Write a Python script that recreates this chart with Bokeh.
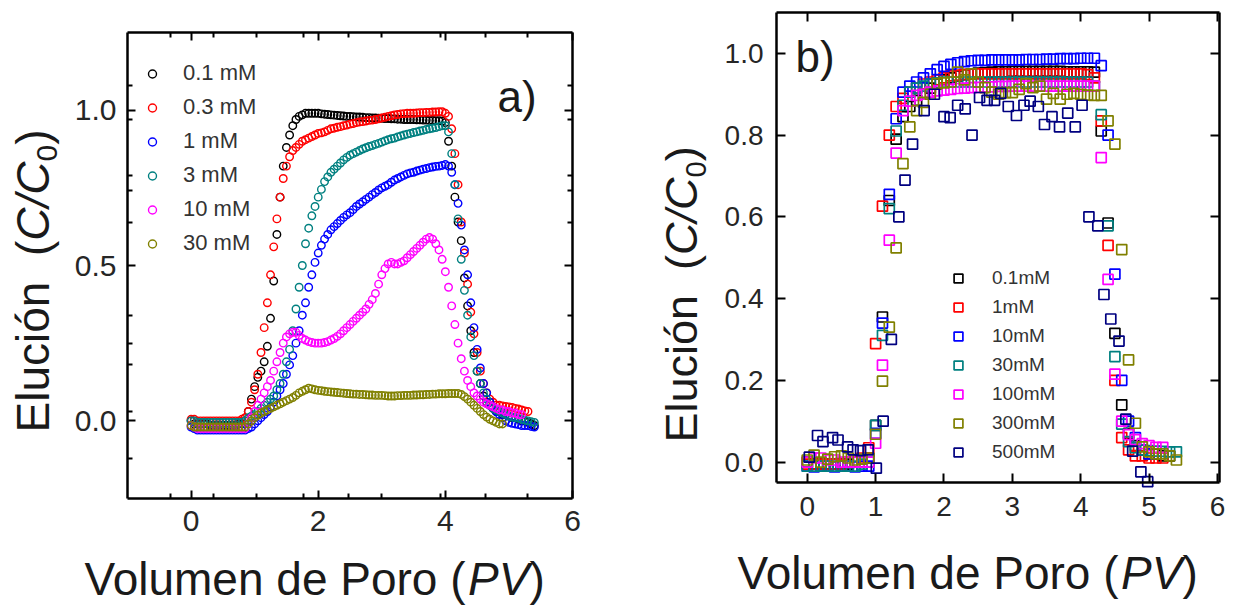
import math
from bokeh.plotting import figure
from bokeh.models import (Range1d, FixedTicker, LinearAxis, Legend, LegendItem, Label,
                          PrintfTickFormatter, CustomJSTickFormatter)
from bokeh.layouts import row
from bokeh.embed import file_html
from bokeh.resources import INLINE

FONT = "Liberation Sans"

# ---------------- Panel a data (pore volume grid and C/C0 per concentration) -------------
PV_A = [0.00, 0.05, 0.10, 0.15, 0.20, 0.25, 0.30, 0.35, 0.40, 0.45,
        0.50, 0.55, 0.60, 0.65, 0.70, 0.75, 0.80, 0.85, 0.90, 0.95,
        1.00, 1.05, 1.10, 1.15, 1.20, 1.25, 1.30, 1.35, 1.40, 1.45,
        1.50, 1.55, 1.60, 1.65, 1.70, 1.75, 1.80, 1.85, 1.90, 1.95,
        2.00, 2.05, 2.10, 2.15, 2.20, 2.25, 2.30, 2.35, 2.40, 2.45,
        2.50, 2.55, 2.60, 2.65, 2.70, 2.75, 2.80, 2.85, 2.90, 2.95,
        3.00, 3.05, 3.10, 3.15, 3.20, 3.25, 3.30, 3.35, 3.40, 3.45,
        3.50, 3.55, 3.60, 3.65, 3.70, 3.75, 3.80, 3.85, 3.90, 3.95,
        4.00, 4.05, 4.10, 4.15, 4.20, 4.25, 4.30, 4.35, 4.40, 4.45,
        4.50, 4.55, 4.60, 4.65, 4.70, 4.75, 4.80, 4.85, 4.90, 4.95,
        5.00, 5.05, 5.10, 5.15, 5.20, 5.25, 5.30, 5.35, 5.40]

A_01 = [0.00, -0.01, -0.01, -0.01, -0.01, -0.01, -0.015, -0.015, -0.015, -0.015,
        -0.015, -0.015, -0.015, -0.015, -0.015, -0.01, -0.01,
        0.00, 0.03, 0.07, 0.11, 0.14, 0.16, 0.19, 0.24, 0.33, 0.45, 0.60, 0.72, 0.82,
        0.88, 0.92, 0.95, 0.97, 0.98, 0.985, 0.99, 0.99, 0.99, 0.99,
        0.99, 0.988, 0.987, 0.986, 0.985, 0.984, 0.983, 0.982, 0.981, 0.98,
        0.98, 0.979, 0.978, 0.978, 0.977, 0.976, 0.976, 0.975, 0.975, 0.974,
        0.974, 0.973, 0.973, 0.972, 0.972, 0.971, 0.971, 0.97, 0.97, 0.97,
        0.97, 0.969, 0.969, 0.968, 0.968, 0.967, 0.967, 0.966, 0.966, 0.965,
        0.96, 0.90, 0.82, 0.72, 0.64, 0.58, 0.46, 0.37, 0.29, 0.22,
        0.16, 0.12, 0.08, 0.06, 0.05, 0.04, 0.03, 0.03, 0.02, 0.02,
        0.015, 0.01, 0.01, 0.005, 0.0, 0.0, -0.005, -0.01, -0.015]
A_03 = [0.005, 0.005, 0.0, 0.0, 0.0, 0.0, 0.0, 0.0, 0.0, 0.0,
        0.0, 0.0, 0.0, 0.0, 0.0, 0.0, 0.005,
        0.01, 0.03, 0.06, 0.10, 0.15, 0.22, 0.30, 0.38, 0.47, 0.56, 0.65, 0.72, 0.78,
        0.82, 0.85, 0.87, 0.88, 0.89, 0.90, 0.905, 0.91, 0.915, 0.92,
        0.925, 0.927, 0.93, 0.935, 0.94, 0.942, 0.945, 0.947, 0.95, 0.952,
        0.955, 0.957, 0.96, 0.962, 0.963, 0.965, 0.967, 0.968, 0.97, 0.972,
        0.975, 0.977, 0.98, 0.982, 0.985, 0.986, 0.988, 0.989, 0.99, 0.99,
        0.99, 0.991, 0.992, 0.992, 0.993, 0.993, 0.994, 0.994, 0.995, 0.995,
        0.99, 0.98, 0.94, 0.86, 0.76, 0.64, 0.54, 0.44, 0.35, 0.28,
        0.22, 0.16, 0.12, 0.09, 0.07, 0.06, 0.05, 0.05, 0.048, 0.046,
        0.045, 0.043, 0.04, 0.038, 0.035, 0.032, 0.03]
A_1 = [-0.02, -0.025, -0.03, -0.03, -0.03, -0.03, -0.03, -0.03, -0.03, -0.03,
       -0.03, -0.03, -0.03, -0.03, -0.03, -0.03, -0.03, -0.03,
       -0.025, -0.02, -0.01, 0.0, 0.01, 0.02, 0.03, 0.045, 0.06, 0.08, 0.10,
       0.12, 0.15, 0.18, 0.21, 0.25, 0.29, 0.34, 0.38, 0.43, 0.47, 0.51,
       0.54, 0.565, 0.585, 0.60, 0.615, 0.625, 0.635, 0.645, 0.655, 0.663,
       0.67, 0.68, 0.69, 0.698, 0.705, 0.713, 0.72, 0.728, 0.735, 0.743,
       0.75, 0.755, 0.76, 0.768, 0.775, 0.78, 0.785, 0.79, 0.795, 0.798,
       0.80, 0.804, 0.807, 0.81, 0.812, 0.815, 0.817, 0.819, 0.82, 0.822,
       0.825, 0.82, 0.80, 0.76, 0.70, 0.63, 0.55, 0.47, 0.38, 0.30,
       0.23, 0.17, 0.12, 0.09, 0.06, 0.045, 0.03, 0.02, 0.01, 0.0,
       -0.005, -0.008, -0.01, -0.012, -0.015, -0.015, -0.015, -0.018, -0.02]
A_3 = [0.0, 0.0, -0.005, -0.005, -0.005, -0.005, -0.005, -0.005, -0.005, -0.005,
       -0.005, -0.005, -0.005, -0.005, -0.005, -0.005, -0.005,
       0.0, 0.01, 0.015, 0.02, 0.03, 0.04, 0.05, 0.06, 0.07, 0.08, 0.10, 0.12, 0.15,
       0.19, 0.23, 0.29, 0.36, 0.43, 0.50, 0.57, 0.62, 0.66, 0.69,
       0.72, 0.745, 0.77, 0.785, 0.80, 0.81, 0.82, 0.83, 0.84, 0.848,
       0.855, 0.86, 0.865, 0.87, 0.875, 0.879, 0.883, 0.886, 0.89, 0.893,
       0.897, 0.901, 0.905, 0.908, 0.91, 0.914, 0.917, 0.92, 0.923, 0.925,
       0.928, 0.93, 0.933, 0.935, 0.938, 0.94, 0.942, 0.944, 0.947, 0.95,
       0.95, 0.93, 0.86, 0.76, 0.65, 0.52, 0.42, 0.34, 0.27, 0.21,
       0.16, 0.12, 0.09, 0.07, 0.05, 0.04, 0.035, 0.03, 0.025, 0.02,
       0.015, 0.012, 0.01, 0.008, 0.005, 0.002, 0.0, -0.003, -0.005]
A_10 = [-0.015, -0.02, -0.025, -0.025, -0.025, -0.025, -0.025, -0.025, -0.025, -0.025,
        -0.025, -0.025, -0.025, -0.025, -0.025, -0.025, -0.025, -0.025,
        -0.01, 0.01, 0.03, 0.05, 0.07, 0.09, 0.11, 0.13, 0.16, 0.19, 0.22,
        0.25, 0.27, 0.28, 0.285, 0.285, 0.275, 0.265, 0.26, 0.255, 0.252, 0.25,
        0.25, 0.25, 0.252, 0.255, 0.26, 0.265, 0.272, 0.28, 0.29, 0.30,
        0.31, 0.32, 0.33, 0.34, 0.35, 0.36, 0.375, 0.39, 0.41, 0.44,
        0.47, 0.49, 0.505, 0.51, 0.505, 0.505, 0.51, 0.515, 0.525, 0.535,
        0.545, 0.555, 0.565, 0.575, 0.585, 0.59, 0.585, 0.57, 0.55, 0.52,
        0.48, 0.43, 0.37, 0.31, 0.25, 0.20, 0.16, 0.13, 0.11, 0.09,
        0.08, 0.07, 0.06, 0.055, 0.05, 0.045, 0.04, 0.035, 0.035, 0.03,
        0.03, 0.025, 0.025, 0.02, 0.02]
A_30 = [-0.015, -0.02, -0.02, -0.02, -0.02, -0.02, -0.02, -0.02, -0.02, -0.02,
        -0.02, -0.02, -0.02, -0.02, -0.02, -0.02, -0.02, -0.02,
        -0.01, 0.0, 0.01, 0.018, 0.025, 0.03, 0.035, 0.04, 0.045, 0.05, 0.055,
        0.06, 0.065, 0.07, 0.075, 0.082, 0.09, 0.095, 0.10, 0.105, 0.103, 0.10,
        0.098, 0.097, 0.095, 0.094, 0.093, 0.092, 0.091, 0.09, 0.089, 0.088,
        0.087, 0.086, 0.086, 0.085, 0.085, 0.084, 0.083, 0.083, 0.082, 0.082,
        0.082, 0.081, 0.08, 0.08, 0.08, 0.081, 0.081, 0.082, 0.082, 0.082,
        0.083, 0.083, 0.084, 0.084, 0.085, 0.085, 0.086, 0.086, 0.087, 0.087,
        0.087, 0.088, 0.088, 0.088, 0.088, 0.085, 0.078, 0.07, 0.06, 0.05,
        0.04, 0.03, 0.02, 0.012, 0.005, 0.0, -0.005, -0.01, -0.01]

LABELS_A = ["0.1 mM", "0.3 mM", "1 mM", "3 mM", "10 mM", "30 mM"]
COLORS_A = ["#000000", "#ff0000", "#0000ff", "#008080", "#ff00ff", "#808000"]

# ---------------- Panel b data ----------------
PV_B = [0.0, 0.1, 0.2, 0.3, 0.4, 0.5, 0.6, 0.7, 0.8, 0.9,
        1.0, 1.1, 1.2, 1.3, 1.4, 1.5, 1.6, 1.7, 1.8, 1.9,
        2.0, 2.1, 2.2, 2.3, 2.4, 2.5, 2.6, 2.7, 2.8, 2.9,
        3.0, 3.1, 3.2, 3.3, 3.4, 3.5, 3.6, 3.7, 3.8, 3.9,
        4.0, 4.1, 4.2, 4.3, 4.4, 4.5, 4.6, 4.7, 4.8, 4.9,
        5.0, 5.1, 5.2, 5.3, 5.4]

B_01 = [0.0, -0.005, -0.005, -0.005, -0.005, -0.005, -0.005, 0.0, 0.0, 0.01,
        0.09, 0.355, 0.64, 0.79, 0.845, 0.87, 0.885, 0.90, 0.915, 0.925,
        0.935, 0.94, 0.945, 0.948, 0.95, 0.952, 0.953, 0.954, 0.955, 0.955,
        0.956, 0.956, 0.956, 0.956, 0.956, 0.956, 0.956, 0.956, 0.955, 0.955,
        0.955, 0.955, 0.954,
        0.81, 0.585, 0.315, 0.14, 0.07, 0.04, 0.03, 0.02, 0.02, 0.015, 0.015]
B_1 = [-0.005, -0.005, -0.005, -0.005, -0.005, -0.005, 0.0, 0.0, 0.01, 0.035,
       0.29, 0.626, 0.80, 0.87, 0.89, 0.905, 0.915, 0.925, 0.93, 0.935,
       0.94, 0.945, 0.947, 0.948, 0.949, 0.95, 0.95, 0.95, 0.95, 0.95,
       0.95, 0.95, 0.95, 0.95, 0.95, 0.95, 0.95, 0.95, 0.95, 0.95,
       0.95, 0.948, 0.94,
       0.835, 0.53, 0.20, 0.06, 0.03, 0.015, 0.015, 0.01, 0.01, 0.01]
B_10 = [-0.01, -0.012, -0.01, -0.01, -0.012, -0.01, -0.01, -0.012, -0.01, -0.01,
        0.07, 0.34, 0.655, 0.84, 0.905, 0.92, 0.93, 0.94, 0.95, 0.96,
        0.968, 0.973, 0.977, 0.98, 0.982, 0.983, 0.983, 0.984, 0.984, 0.984,
        0.984, 0.984, 0.985, 0.985, 0.985, 0.986, 0.986, 0.987, 0.987, 0.987,
        0.988, 0.988, 0.988, 0.97,
        0.80, 0.46, 0.20, 0.10, 0.06, 0.03, 0.02]
B_30 = [-0.01, -0.01, -0.01, -0.01, -0.01, -0.01, -0.01, -0.01, -0.005, 0.0,
        0.09, 0.31, 0.62, 0.81, 0.873, 0.905, 0.915, 0.92, 0.925, 0.928,
        0.93, 0.93, 0.93, 0.93, 0.93, 0.93, 0.93, 0.93, 0.93, 0.93,
        0.93, 0.93, 0.93, 0.93, 0.93, 0.93, 0.93, 0.93, 0.93, 0.93,
        0.93, 0.93, 0.92,
        0.85, 0.578, 0.258, 0.093, 0.05, 0.035, 0.03, 0.028, 0.027, 0.026, 0.025, 0.025]
B_100 = [0.0, 0.01, 0.01, 0.005, 0.005, 0.0, 0.0, 0.0, 0.0, 0.0,
         0.046, 0.237, 0.543, 0.756, 0.86, 0.883, 0.897, 0.90, 0.905, 0.908,
         0.91, 0.912, 0.914, 0.915, 0.916, 0.917, 0.918, 0.918, 0.919, 0.919,
         0.92, 0.92, 0.92, 0.92, 0.92, 0.92, 0.92, 0.92, 0.92, 0.92,
         0.92, 0.92, 0.92,
         0.745, 0.447, 0.215, 0.10, 0.067, 0.055, 0.045, 0.04, 0.036, 0.036]
B_300 = [0.005, 0.017, 0.0, 0.007, 0.013, 0.015, 0.01, 0.005, 0.007, 0.01,
         0.068, 0.198, 0.33, 0.524, 0.73, 0.82, 0.86, 0.88, 0.90, 0.926,
         0.928, 0.93, 0.954, 0.935, 0.95, 0.93, 0.916, 0.905, 0.90, 0.904,
         0.904, 0.912, 0.926, 0.916, 0.92, 0.888, 0.902, 0.888, 0.90, 0.902,
         0.90, 0.898, 0.897, 0.897,
         0.835, 0.778, 0.52, 0.25, 0.095, 0.037, 0.025, 0.02, 0.02, 0.015, 0.005]
PV_B500 = [0.03, 0.15, 0.23, 0.37, 0.45, 0.59, 0.67, 0.78, 0.89,
           1.01, 1.11, 1.23, 1.34, 1.43, 1.54, 1.71, 1.86, 2.0,
           2.09, 2.2, 2.31, 2.41, 2.52, 2.63, 2.74, 2.83, 2.94,
           3.06, 3.17, 3.26, 3.38, 3.47, 3.58, 3.69, 3.81, 3.92, 4.02,
           4.12, 4.25, 4.34, 4.44, 4.56, 4.66, 4.76, 4.88, 4.98]
B_500 = [0.012, 0.065, 0.05, 0.06, 0.054, 0.037, 0.03, 0.028, 0.03,
         -0.015, 0.10, 0.30, 0.60, 0.69, 0.778, 0.86, 0.90, 0.845,
         0.843, 0.873, 0.864, 0.80, 0.892, 0.885, 0.885, 0.902, 0.87,
         0.848, 0.873, 0.883, 0.87, 0.826, 0.845, 0.82, 0.854, 0.82, 0.873,
         0.60, 0.578, 0.41, 0.35, 0.296, 0.105, 0.027, -0.024, -0.048]

LABELS_B = ["0.1mM", "1mM", "10mM", "30mM", "100mM", "300mM", "500mM"]
COLORS_B = ["#000000", "#ff0000", "#0000ff", "#008080", "#ff00ff", "#808000", "#000080"]

# tick positions
A_XMAJ = [0, 2, 4, 6]
A_XMIN = [-0.32, 0.36, 1.03, 1.77, 2.48, 3.0, 3.92, 4.63, 5.29]
A_YMAJ = [0.0, 0.5, 1.0]
A_YMIN = [-0.12, 0.03, 0.18, 0.25, 0.34, 0.64, 0.74, 0.79, 0.97, 1.08]
B_XMAJ = [0, 1, 2, 3, 4, 5, 6]
B_YMAJ = [0.0, 0.2, 0.4, 0.6, 0.8, 1.0]

H = 608   # canvas height of each panel (page has no margin)
BASE = 0.37  # empirical offset (in em) of the alphabetic baseline of a Label


def style_axis(ax, tick_in, minor_in, lw, label_size=None, standoff=0):
    ax.axis_line_width = lw
    ax.axis_line_color = "black"
    ax.major_tick_in = tick_in
    ax.major_tick_out = 0
    ax.minor_tick_in = minor_in
    ax.minor_tick_out = 0
    ax.major_tick_line_width = 2
    ax.minor_tick_line_width = 2
    ax.major_tick_line_color = "black"
    ax.minor_tick_line_color = "black" if minor_in > 0 else None
    ax.axis_label = None
    if label_size:
        ax.major_label_text_font = FONT
        ax.major_label_text_font_size = f"{label_size}px"
        ax.major_label_text_color = "#262626"
        ax.major_label_standoff = standoff
    else:
        ax.formatter = CustomJSTickFormatter(code="return ''")
        ax.major_label_text_font_size = "1px"
        ax.major_label_standoff = 0


def htext(p, left, px, baseline_py, text, size, style="normal"):
    """horizontal text; px, baseline_py in page pixels, left = canvas left on page"""
    p.add_layout(Label(x=px - left, y=H - baseline_py + BASE * size,
                       x_units="screen", y_units="screen", text=text,
                       text_font=FONT, text_font_size=f"{size}px", text_font_style=style,
                       text_color="#1a1a1a", text_align="left", text_baseline="alphabetic"))


def vtext(p, left, baseline_px, start_py, text, size, style="normal"):
    """text rotated 90 deg (reading upwards); baseline at page x, starting at page y"""
    p.add_layout(Label(x=baseline_px - left - BASE * size, y=H - start_py,
                       x_units="screen", y_units="screen", text=text, angle=math.pi / 2,
                       text_font=FONT, text_font_size=f"{size}px", text_font_style=style,
                       text_color="#1a1a1a", text_align="left", text_baseline="alphabetic"))


def panel(width, xlim, ylim, box):
    """box = (left, right, top, bottom) of the axes box in canvas pixels.
    The whole canvas is the plotting frame; the axes are pinned at the box edges."""
    left, right, top, bottom = box
    kx = (xlim[1] - xlim[0]) / (right - left)
    ky = (ylim[1] - ylim[0]) / (bottom - top)
    xr = Range1d(xlim[0] - left * kx, xlim[1] + (width - right) * kx)
    yr = Range1d(ylim[0] - (H - bottom) * ky, ylim[1] + top * ky)
    p = figure(width=width, height=H, x_range=xr, y_range=yr,
               output_backend="svg", toolbar_location=None,
               x_axis_location=None, y_axis_location=None,
               min_border_left=0, min_border_right=0, min_border_top=0, min_border_bottom=0)
    p.xgrid.visible = False
    p.ygrid.visible = False
    p.outline_line_color = None
    p.background_fill_color = "white"
    p.border_fill_color = "white"
    return p


def add_axes(p, xlim, ylim, xt, yt, tick_in, minor_in, xsize, ysize, xstand, ystand, xfmt, yfmt):
    b = LinearAxis(ticker=xt, formatter=PrintfTickFormatter(format=xfmt),
                   fixed_location=ylim[0], bounds=xlim)
    t = LinearAxis(ticker=xt, fixed_location=ylim[1], bounds=xlim)
    l = LinearAxis(ticker=yt, formatter=PrintfTickFormatter(format=yfmt),
                   fixed_location=xlim[0], bounds=ylim)
    r = LinearAxis(ticker=yt, fixed_location=xlim[1], bounds=ylim)
    style_axis(b, tick_in, minor_in, 2.5, xsize, xstand)
    style_axis(t, tick_in, minor_in, 2.5)
    style_axis(l, tick_in, minor_in, 2.5, ysize, ystand)
    style_axis(r, tick_in, minor_in, 2.5)
    p.add_layout(b, "below")
    p.add_layout(t, "above")
    p.add_layout(l, "left")
    p.add_layout(r, "right")

# ---------------- Panel a ----------------
# canvas = page x 0..628, y 0..608; axes box page x 127..572, y 32..498
XL_A, YL_A = (-1, 6), (-0.25, 1.25)
LA = 0
fa = panel(628, XL_A, YL_A, (127, 572, 32, 498))
add_axes(fa, XL_A, YL_A, FixedTicker(ticks=A_XMAJ, minor_ticks=A_XMIN),
         FixedTicker(ticks=A_YMAJ, minor_ticks=A_YMIN), 8, 5, 30, 30, 12, 11, "%d", "%.1f")

series_a = [A_01, A_03, A_1, A_3, A_10, A_30]
items_a = []
for vals, col, name in zip(series_a, COLORS_A, LABELS_A):
    r = fa.scatter(PV_A[:len(vals)], vals, marker="circle", size=7.5, fill_color=None,
                   line_color=col, line_width=1.4)
    items_a.append(LegendItem(label=name, renderers=[r]))
leg_a = Legend(items=items_a, location=(142, 352), orientation="vertical",
               glyph_width=20, glyph_height=25, label_height=25, label_text_font=FONT,
               label_text_font_size="22px", label_text_color="#333333",
               label_standoff=21, spacing=8, padding=0, margin=0,
               background_fill_alpha=0, border_line_color=None)
fa.add_layout(leg_a)

htext(fa, LA, 497, 112, "a)", 44)
htext(fa, LA, 84, 596, "Volumen de Poro (", 46)
htext(fa, LA, 84 + 383.5, 596, "PV", 46, "italic")
htext(fa, LA, 84 + 444.9, 596, ")", 46)
vtext(fa, LA, 50, 432, "Elución \u00a0(", 46)
vtext(fa, LA, 50, 240.2, "C/C", 46, "italic")
vtext(fa, LA, 58, 161, "0", 30)
vtext(fa, LA, 50, 144.3, ")", 46)

# ---------------- Panel b ----------------
# canvas = page x 628..1235, y 0..608; axes box page x 776..1219, y 12..482
XL_B, YL_B = (-0.45, 6.03), (-0.05, 1.10)
LB = 628
fb = panel(607, XL_B, YL_B, (148, 591, 12, 482))
add_axes(fb, XL_B, YL_B, FixedTicker(ticks=B_XMAJ, minor_ticks=[]),
         FixedTicker(ticks=B_YMAJ, minor_ticks=[]), 9, 0, 28, 28, 14, 13, "%d", "%.1f")

series_b = [(PV_B[:len(B_01)], B_01), (PV_B[:len(B_1)], B_1), (PV_B[:len(B_10)], B_10),
            (PV_B[:len(B_30)], B_30), (PV_B[:len(B_100)], B_100), (PV_B[:len(B_300)], B_300),
            (PV_B500, B_500)]
items_b = []
for (xs, ys), col, name in zip(series_b, COLORS_B, LABELS_B):
    r = fb.scatter(xs, ys, marker="square", size=10, fill_color=None,
                   line_color=col, line_width=1.7)
    items_b.append(LegendItem(label=name, renderers=[r]))
leg_b = Legend(items=items_b, location=(319, 145), orientation="vertical",
               glyph_width=22, glyph_height=22, label_height=22, label_text_font=FONT,
               label_text_font_size="19px", label_text_color="#333333",
               label_standoff=23, spacing=7, padding=0, margin=0,
               background_fill_alpha=0, border_line_color=None)
fb.add_layout(leg_b)

htext(fb, LB, 795, 72, "b)", 44)
htext(fb, LB, 737, 590, "Volumen de Poro (", 46)
htext(fb, LB, 737 + 383.5, 590, "PV", 46, "italic")
htext(fb, LB, 737 + 444.9, 590, ")", 46)
vtext(fb, LB, 698, 442, "Elución \u00a0(", 45)
vtext(fb, LB, 698, 254.4, "C/C", 45, "italic")
vtext(fb, LB, 706, 176.9, "0", 29)
vtext(fb, LB, 698, 160.8, ")", 45)

layout = row(fa, fb)
open("out.html", "w").write(file_html(layout, INLINE))
